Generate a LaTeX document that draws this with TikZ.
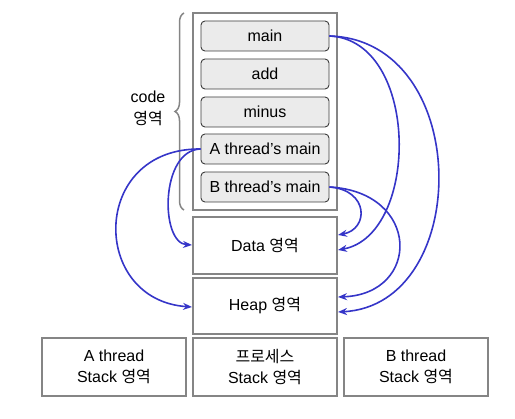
\documentclass[tikz,border=0pt]{standalone}
\usepackage{fontspec}
\setmainfont{Liberation Sans}
\newfontfamily\kr[Scale=1.0]{Noto Sans CJK KR}
\usepackage{tikz}
\usetikzlibrary{arrows.meta}
\usetikzlibrary{decorations.pathreplacing}
\definecolor{boxgray}{HTML}{858585}
\definecolor{funcgray}{HTML}{EBEBEB}
\definecolor{funcedge}{HTML}{3C3C3C}
\definecolor{arrowblue}{HTML}{3535C8}
\tikzset{
grayboxv1/.style={rectangle, draw=boxgray,fill=white,line width=2pt, inner sep=0pt, minimum width= 144pt, minimum height = 57pt, align=center, font=\fontsize{16}{21}\selectfont},
funcboxv1/.style={rectangle, rounded corners=4pt, draw=funcedge,fill=funcgray,line width=0.9pt, inner sep=0pt, minimum width= 128pt, minimum height = 30pt, font=\fontsize{16}{21}\selectfont},
dummywhite/.style={inner sep=0pt, align=center, font=\fontsize{16}{22}\selectfont},
bluearrowv1/.style={draw=arrowblue, line width=1.6pt, -{Stealth[length=9pt,width=7pt]}},
graybrace/.style={draw=boxgray, line width=1.5pt, decorate, decoration={brace, amplitude=9pt}},
}
\begin{document}
\begin{tikzpicture}[x=1pt,y=-1pt]
\useasboundingbox (0,0) rectangle (515,419);
\node[grayboxv1, minimum height = 197pt] at (265,111.5) (code) {};
\node[funcboxv1] at (265,36) (main) {main};
\node[funcboxv1] at (265,74) (add) {add};
\node[funcboxv1] at (265,112) (minus) {minus};
\node[funcboxv1] at (265,149) (amain) {A thread’s main};
\node[funcboxv1] at (265,187) (bmain) {B thread’s main};
\node[grayboxv1] at (265,245.5) (data) {Data {\kr 영역}};
\node[grayboxv1, minimum height = 56pt] at (265,306) (heap) {Heap {\kr 영역}};
\node[grayboxv1, minimum height = 58pt] at (114,367) (astack) {A thread\\Stack {\kr 영역}};
\node[grayboxv1, minimum height = 58pt] at (265,367) (pstack) {{\kr 프로세스}\\Stack {\kr 영역}};
\node[grayboxv1, minimum height = 58pt] at (416,367) (bstack) {B thread\\Stack {\kr 영역}};
\node[dummywhite] at (148,108) (codelabel) {code\\{\kr 영역}};
\coordinate (bracebot) at (184,210);
\coordinate (bracetop) at (184,13);
\draw[graybrace] (bracebot) -- (bracetop);
\coordinate (dataR1) at (338,235);
\coordinate (dataR2) at (338,250);
\coordinate (heapR1) at (338,297);
\coordinate (heapR2) at (338,312);
\coordinate (dataL) at (192,245);
\coordinate (heapL) at (192,307);
\draw[bluearrowv1] (main.east) .. controls (420,40) and (420,235) .. (dataR2);
\draw[bluearrowv1] (main.east) .. controls (473,40) and (473,305) .. (heapR2);
\draw[bluearrowv1] (bmain.east) .. controls (369,190) and (369,229) .. (dataR1);
\draw[bluearrowv1] (bmain.east) .. controls (421,192) and (421,294) .. (heapR1);
\draw[bluearrowv1] (amain.west) .. controls (160,150) and (160,243) .. (dataL);
\draw[bluearrowv1] (amain.west) .. controls (90,148) and (90,300) .. (heapL);
\end{tikzpicture}
\end{document}
